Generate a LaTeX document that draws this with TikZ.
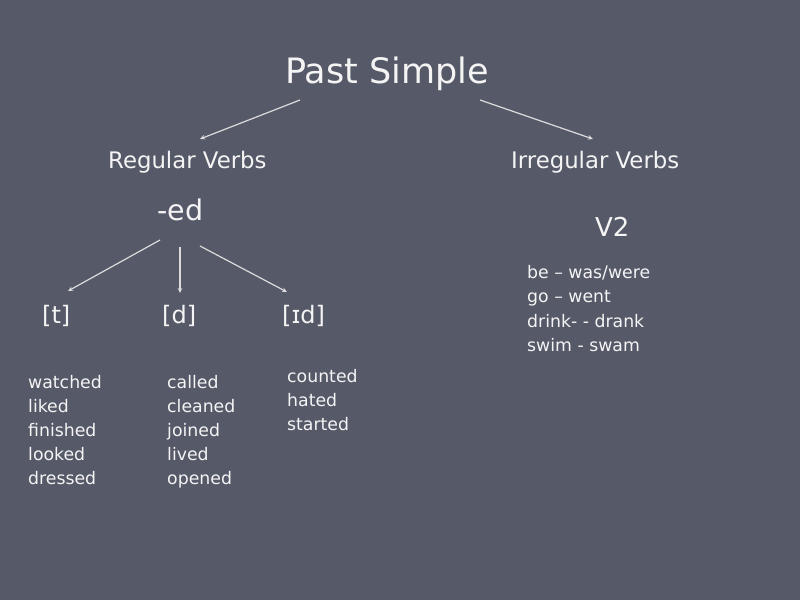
\documentclass[tikz,border=0pt]{standalone}
\usepackage{fontspec}
\setmainfont{DejaVu Sans}
\usetikzlibrary{arrows.meta}
\definecolor{bg}{HTML}{565968}
\definecolor{txt}{HTML}{F4F4F4}
\definecolor{arr}{HTML}{DCDCDC}
\tikzset{
  lbl/.style={inner sep=0pt, anchor=base west, text=txt},
  title/.style={lbl, font=\fontsize{35}{40}\selectfont},
  head/.style={lbl, font=\fontsize{22.8}{28}\selectfont},
  big/.style={lbl, font=\fontsize{26}{30}\selectfont},
  sound/.style={lbl, font=\fontsize{24}{28}\selectfont},
  item/.style={lbl, font=\fontsize{17.3}{22}\selectfont},
  conn/.style={draw=arr, line width=1.2pt, -{Stealth[length=5pt,width=4.5pt]}}
}
\begin{document}
\begin{tikzpicture}[x=1pt,y=-1pt]
\fill[bg] (0,0) rectangle (800,600);
\useasboundingbox (0,0) rectangle (800,600);

\node[title] (ps) at (285,83) {Past Simple};
\node[head] (reg) at (108,168) {Regular Verbs};
\node[head] (irr) at (511,168) {Irregular Verbs};
\node[lbl, font=\fontsize{28.5}{32}\selectfont] (ed) at (157,220) {-ed};
\node[big] (v2) at (595,236) {V2};
\node[sound] (t) at (42,323) {[t]};
\node[sound] (d) at (162,323) {[d]};
\node[sound] (id) at (282,323) {[ɪd]};

\foreach \w [count=\i] in {watched,liked,finished,looked,dressed}
  \node[item] (tw\i) at (28,{388+24*(\i-1)}) {\w};
\foreach \w [count=\i] in {called,cleaned,joined,lived,opened}
  \node[item] (dw\i) at (167,{388+24*(\i-1)}) {\w};
\foreach \w [count=\i] in {counted,hated,started}
  \node[item] (iw\i) at (287,{382+24*(\i-1)}) {\w};
\node[item] (ir1) at (527,278) {be – was/were};
\node[item] (ir2) at (527,302.5) {go – went};
\node[item] (ir3) at (527,327) {drink- - drank};
\node[item] (ir4) at (527,351.5) {swim - swam};

\coordinate (psL) at (300,100);
\coordinate (psR) at (480,100);
\coordinate (regT) at (200,139);
\coordinate (irrT) at (593,139);
\coordinate (edL) at (160,240);
\coordinate (edM) at (180,247);
\coordinate (edR) at (200,246);
\coordinate (tT) at (68,291);
\coordinate (dT) at (180,293);
\coordinate (idT) at (287,292);

\draw[conn] (psL) -- (regT);
\draw[conn] (psR) -- (irrT);
\draw[conn] (edL) -- (tT);
\draw[conn] (edM) -- (dT);
\draw[conn] (edR) -- (idT);
\end{tikzpicture}
\end{document}
